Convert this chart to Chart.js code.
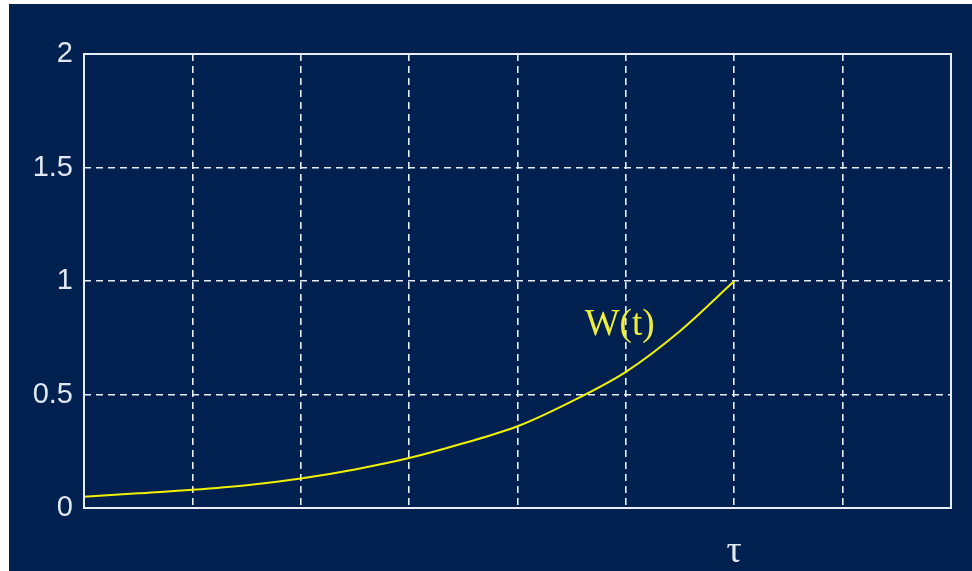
<!DOCTYPE html>
<html>
<head>
<meta charset="utf-8">
<script src="https://cdn.jsdelivr.net/npm/chart.js@4/dist/chart.umd.min.js"></script>
<style>
  html, body { margin: 0; padding: 0; background: #ffffff; overflow: hidden; }
  #wrap { position: absolute; left: 9px; top: 4px; width: 963px; height: 567px; background: #002150; }
  canvas { display: block; }
</style>
</head>
<body>
<div id="wrap"><canvas id="c" width="963" height="567"></canvas></div>
<script>
// Time axis samples (in grid units) and the weight W(t) at each
const tValues = [0, 0.5, 1, 1.5, 2, 2.5, 3, 3.5, 4, 4.5, 5, 5.5, 6];
const wValues = [0.05, 0.065, 0.08, 0.10, 0.13, 0.17, 0.22, 0.285, 0.36, 0.47, 0.60, 0.78, 1.0];

// Axis tick labels
const xTickLabels = ['', '', '', '', '', '', 'τ', '', ''];
const yTicks = [0, 0.5, 1, 1.5, 2];
const yTickLabels = ['0', '0.5', '1', '1.5', '2'];

const curveLabel = 'W(t)';
const curveLabelPos = { x: 4.62, y: 0.76 };

const gridColor = '#e6edf6';
const textColor = '#dfe7f1';

const points = tValues.map((t, i) => ({ x: t, y: wValues[i] }));

const overlay = {
  id: 'overlay',
  afterDatasetsDraw(chart) {
    const { ctx, chartArea: a, scales } = chart;
    ctx.save();
    // solid plot frame
    ctx.strokeStyle = gridColor;
    ctx.lineWidth = 2;
    ctx.setLineDash([]);
    ctx.strokeRect(a.left, a.top, a.right - a.left, a.bottom - a.top);
    // curve label
    ctx.fillStyle = '#eeee3a';
    ctx.font = '37px "Liberation Serif", "DejaVu Serif", serif';
    ctx.textAlign = 'left';
    ctx.textBaseline = 'alphabetic';
    ctx.fillText(curveLabel, scales.x.getPixelForValue(curveLabelPos.x), scales.y.getPixelForValue(curveLabelPos.y));
    ctx.restore();
  }
};

new Chart(document.getElementById('c'), {
  type: 'line',
  data: {
    datasets: [{
      data: points,
      borderColor: '#f2f200',
      borderWidth: 2,
      pointRadius: 0,
      cubicInterpolationMode: 'monotone',
      fill: false
    }]
  },
  options: {
    responsive: false,
    animation: false,
    events: [],
    layout: { padding: { top: 50, right: 21, bottom: 0, left: 0 } },
    plugins: { legend: { display: false }, tooltip: { enabled: false } },
    scales: {
      x: {
        type: 'linear',
        min: 0,
        max: 8,
        afterFit(s) { s.height = 63; },
        afterBuildTicks(s) { s.ticks = xTickLabels.map((_, i) => ({ value: i })); },
        ticks: {
          autoSkip: false,
          maxRotation: 0,
          padding: 21,
          color: textColor,
          font: { family: '"Liberation Serif", "DejaVu Serif", serif', size: 38 },
          callback: (v) => xTickLabels[v] || ''
        },
        grid: { color: gridColor, lineWidth: 1.6, drawTicks: false },
        border: { display: false, dash: [7, 5] }
      },
      y: {
        type: 'linear',
        min: 0,
        max: 2,
        afterFit(s) { s.width = 75; },
        afterBuildTicks(s) { s.ticks = yTicks.map(v => ({ value: v })); },
        ticks: {
          padding: 11,
          color: textColor,
          font: { family: '"Liberation Sans", Arial, sans-serif', size: 29 },
          callback: (v) => yTickLabels[yTicks.indexOf(v)]
        },
        grid: { color: gridColor, lineWidth: 1.6, drawTicks: false },
        border: { display: false, dash: [7, 5] }
      }
    }
  },
  plugins: [overlay]
});
</script>
</body>
</html>
